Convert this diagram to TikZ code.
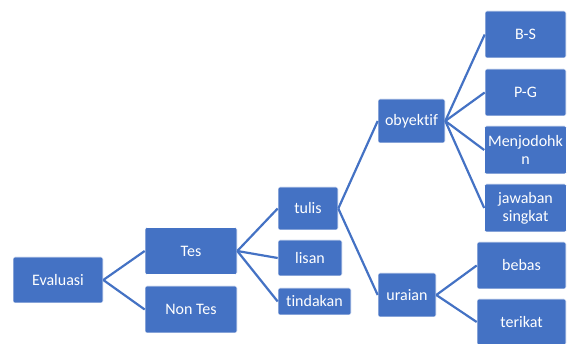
\documentclass[tikz,border=0pt]{standalone}
\usepackage{fontspec}
\setmainfont{Carlito}[Ligatures=NoCommon]
\definecolor{boxblue}{HTML}{4472C4}
\tikzset{
  box/.style={draw=white, line width=0.6pt, fill=boxblue, text=white, rounded corners=2pt,
    font=\fontsize{16}{18}\selectfont, align=center, inner sep=1pt},
  link/.style={draw=boxblue, line width=2.2pt}
}
\begin{document}
\begin{tikzpicture}[x=1pt,y=-1pt]
        \useasboundingbox (0,0) rectangle (568,344);
        \node[box, minimum width=90, minimum height=46] (evaluasi) at (58,280) {Evaluasi};
        \node[box, minimum width=92, minimum height=47] (tes) at (191,251) {Tes};
        \node[box, minimum width=92, minimum height=47] (nontes) at (191,309.5) {Non Tes};
        \node[box, minimum width=60, minimum height=43] (tulis) at (308,208.5) {tulis};
        \node[box, minimum width=64, minimum height=36] (lisan) at (310,258) {lisan};
        \node[box, minimum width=73, minimum height=27] (tindakan) at (314.5,301.5) {tindakan};
        \node[box, minimum width=67, minimum height=44] (obyektif) at (411.5,121) {obyektif};
        \node[box, minimum width=58, minimum height=44] (uraian) at (407,295) {uraian};
        \node[box, minimum width=81, minimum height=47] (bs) at (525.5,34.5) {B-S};
        \node[box, minimum width=81, minimum height=47] (pg) at (525.5,92.5) {P-G};
        \node[box, minimum width=81, minimum height=48, text width=80] (menjodohkan) at (525.5,150) {Menjodohk\\n};
        \node[box, minimum width=81, minimum height=48, text width=80] (jawaban) at (525.5,208) {jawaban\\singkat};
        \node[box, minimum width=89, minimum height=47] (bebas) at (521.5,265.5) {bebas};
        \node[box, minimum width=89, minimum height=46] (terikat) at (521.5,322) {terikat};

        \draw[link] (evaluasi.east) -- (tes.west);
        \draw[link] (evaluasi.east) -- (nontes.west);
        \draw[link] (tes.east) -- (tulis.west);
        \draw[link] (tes.east) -- (lisan.west);
        \draw[link] (tes.east) -- (tindakan.west);
        \draw[link] (tulis.east) -- (obyektif.west);
        \draw[link] (tulis.east) -- (uraian.west);
        \draw[link] (obyektif.east) -- (bs.west);
        \draw[link] (obyektif.east) -- (pg.west);
        \draw[link] (obyektif.east) -- (menjodohkan.west);
        \draw[link] (obyektif.east) -- (jawaban.west);
        \draw[link] (uraian.east) -- (bebas.west);
        \draw[link] (uraian.east) -- (terikat.west);
    \end{tikzpicture}
\end{document}
